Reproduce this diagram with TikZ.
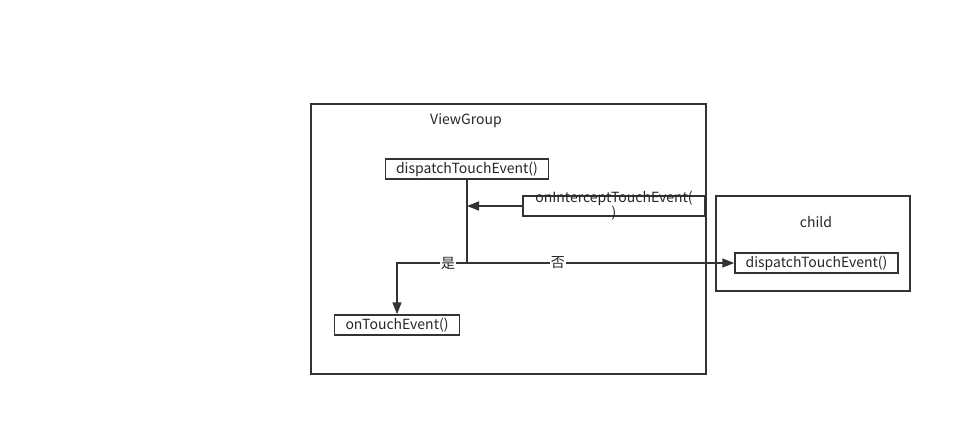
\documentclass[tikz,border=0pt]{standalone}
\usepackage{fontspec}
\setmainfont{Noto Sans CJK SC}
\usetikzlibrary{positioning}
\usetikzlibrary{arrows.meta}

\begin{document}
\begin{tikzpicture}
			[x=1pt,y=-1pt,
			 font=\fontsize{14}{15}\selectfont,
			 every node/.style={text=black!85},
			 frame/.style={draw=black!80,line width=1.3pt},
			 box/.style={rectangle,draw=black!80,line width=1.5pt,inner sep=0pt},
			 connect/.style={draw=black!80,line width=1.6pt},
			 flow/.style={connect,-{Triangle[length=12pt,width=9pt]}},
			 label/.style={rectangle,fill=white,draw=none,inner sep=1pt}]
			\useasboundingbox (0,0) rectangle (971,437);
			% ViewGroup
			\draw [frame] (311,104) rectangle (706,374);
			\node (vg) at (466,121) {ViewGroup};
			\node (dispatch) [box,minimum width=163,minimum height=20] at (467,169) {dispatchTouchEvent()};
			\node (intercept) [box,minimum width=182,minimum height=20] at (614,206) {};
			\node (interceptText) [align=center,inner sep=0pt] at (614,206) {onInterceptTouchEvent(\\)};
			\node (touch) [box,minimum width=125,minimum height=20] at (397,325) {onTouchEvent()};
			% child
			\draw [frame] (716,196) rectangle (910,291);
			\node (child) at (816,222) {child};
			\node (childDispatch) [box,minimum width=163,minimum height=20] at (816.5,263) {dispatchTouchEvent()};
			% connectors
			\coordinate (merge) at (dispatch.south |- intercept.west);
			\coordinate (split) at (dispatch.south |- childDispatch.west);
			\draw [connect] (dispatch.south) -- (split);
			\draw [flow] (intercept.west) -- (merge);
			\draw [flow] (split) -- node [label,pos=0.34] {否} (childDispatch.west);
			\draw [flow] (split) -- node [label,pos=0.27] {是} (touch.north |- split) -- (touch.north);
		\end{tikzpicture}
\end{document}
